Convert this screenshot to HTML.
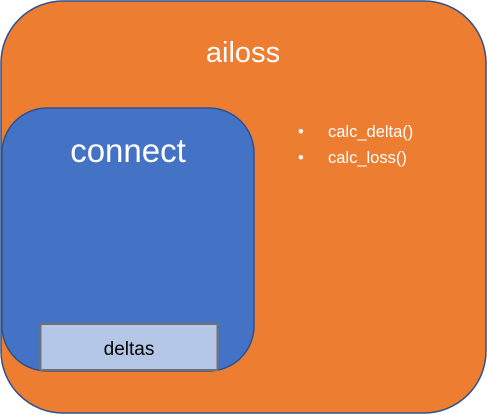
<!DOCTYPE html>
<html><head><style>html,body{margin:0;padding:0;background:#fff;width:487px;height:415px;overflow:hidden}</style></head>
<body>
<svg width="487" height="415" xmlns="http://www.w3.org/2000/svg" font-family="Liberation Sans, Carlito, sans-serif">
<rect x="1" y="1" width="485" height="412" rx="62" ry="62" fill="#ED7D31" stroke="#2F528F" stroke-width="1.5"/>
<text x="243" y="62" font-size="29" fill="#fff" text-anchor="middle">ailoss</text>
<rect x="2" y="108" width="252" height="263" rx="45" ry="45" fill="#4472C4" stroke="#2F528F" stroke-width="1.5"/>
<text x="128" y="162" font-size="33" fill="#fff" text-anchor="middle">connect</text>
<rect x="40.5" y="324" width="177" height="46" fill="#B4C7E7" stroke="#767171" stroke-width="2"/>
<text x="129" y="355" font-size="19" fill="#000" text-anchor="middle">deltas</text>
<g font-size="16.5" fill="#fff">
<text x="298" y="137">•</text><text x="328" y="137">calc_delta()</text>
<text x="298" y="163">•</text><text x="328" y="163">calc_loss()</text>
</g>
</svg>
</body></html>
